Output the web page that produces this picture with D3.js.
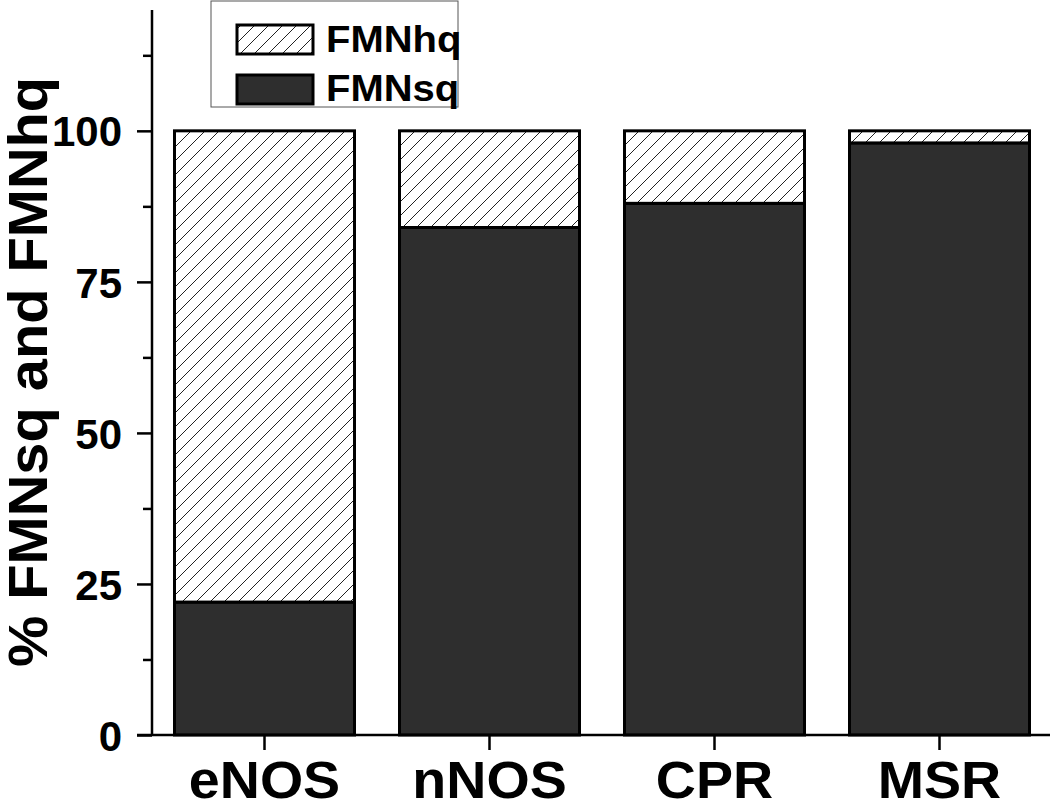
<!DOCTYPE html>
<html><head><meta charset="utf-8">
<script src="https://cdn.jsdelivr.net/npm/d3@7"></script>
<style>body{margin:0;background:#fff;} svg{display:block;}</style>
</head><body>
<svg id="chart" width="1050" height="806"></svg>
<script>
const categories = ["eNOS", "nNOS", "CPR", "MSR"];
const fmnsq = [22, 84, 88, 98];
const fmnhq = [78, 16, 12, 2];
const yTicks = [0, 25, 50, 75, 100];
const seriesNames = ["FMNhq", "FMNsq"];

const svg = d3.select("#chart");
const font = "'Liberation Sans', Arial, sans-serif";
function stretch(sel, f){
  sel.each(function(){
    const w = this.getComputedTextLength();
    d3.select(this).attr("textLength", w*f).attr("lengthAdjust","spacingAndGlyphs");
  });
}
const defs = svg.append("defs");
const pat = defs.append("pattern").attr("id","hatch").attr("patternUnits","userSpaceOnUse")
  .attr("width",14).attr("height",14);
pat.append("rect").attr("width",14).attr("height",14).attr("fill","#fff");
pat.append("path").attr("d","M-1,1 l2,-2 M0,14 l14,-14 M13,15 l2,-2").attr("stroke","#222").attr("stroke-width",1);

const x = d3.scaleBand().domain(categories).range([152, 1052]).paddingInner(0.2).paddingOuter(0.1);
const y = d3.scaleLinear().domain([0, 120]).range([735, 10]);

const data = categories.map((c,i)=>({cat:c, sq:fmnsq[i], hq:fmnhq[i]}));

const g = svg.append("g");
g.selectAll("rect.sq").data(data).join("rect").attr("class","sq")
  .attr("x", d=>x(d.cat)).attr("width", x.bandwidth())
  .attr("y", d=>y(d.sq)).attr("height", d=>y(0)-y(d.sq))
  .attr("fill","#2e2e2e").attr("stroke","#000").attr("stroke-width",3);
g.selectAll("rect.hq").data(data).join("rect").attr("class","hq")
  .attr("x", d=>x(d.cat)).attr("width", x.bandwidth())
  .attr("y", d=>y(d.sq+d.hq)).attr("height", d=>y(d.sq)-y(d.sq+d.hq))
  .attr("fill","url(#hatch)").attr("stroke","#000").attr("stroke-width",3);

// y axis
const yAxis = svg.append("g").attr("transform","translate(152,0)")
  .call(d3.axisLeft(y).tickValues(yTicks).tickSize(15).tickPadding(15).tickFormat(d3.format("d")));
svg.append("g").attr("transform","translate(152,0)")
  .call(d3.axisLeft(y).tickValues([12.5,37.5,62.5,87.5,112.5]).tickSize(9).tickFormat(""))
  .call(a=>a.select(".domain").remove());
svg.selectAll(".tick line").attr("stroke","#000").attr("stroke-width",2.5);
yAxis.select(".domain").attr("d","M0,"+y(120)+"V"+y(0)).attr("stroke-width",2.5);
yAxis.selectAll("text").attr("font-family",font).attr("font-weight","bold").attr("font-size",42).attr("fill","#000")
  .attr("dy","0.36em");

// x axis
const xAxis = svg.append("g").attr("transform","translate(0,735)")
  .call(d3.axisBottom(x).tickSize(15).tickPadding(14));
xAxis.select(".domain").attr("d","M137,0H1050").attr("stroke-width",2.5);
xAxis.selectAll(".tick line").attr("stroke","#000").attr("stroke-width",2.5);
xAxis.selectAll("text").attr("font-family",font).attr("font-weight","bold").attr("font-size",51).attr("fill","#000")
  .attr("y",63).attr("dy",null);
stretch(xAxis.selectAll("text"), 1.09);

// y title
const yt = svg.append("text").attr("transform","translate(47,372) rotate(-90)").attr("text-anchor","middle")
  .attr("font-family",font).attr("font-weight","bold").attr("font-size",55).text("% FMNsq and FMNhq");
stretch(yt, 1.05);

// legend
const lg = svg.append("g");
lg.append("rect").attr("x",211).attr("y",1).attr("width",247).attr("height",106)
  .attr("fill","#fff").attr("stroke","#555").attr("stroke-width",1);
const fills = ["url(#hatch)","#2e2e2e"];
seriesNames.forEach((s,i)=>{
  lg.append("rect").attr("x",237).attr("y",25+i*50).attr("width",76).attr("height",29)
    .attr("fill",fills[i]).attr("stroke","#000").attr("stroke-width",3);
  const t = lg.append("text").attr("x",326).attr("y",52+i*49).attr("font-family",font).attr("font-weight","bold")
    .attr("font-size",37).text(s);
  stretch(t, 1.08);
});
</script>
</body></html>
